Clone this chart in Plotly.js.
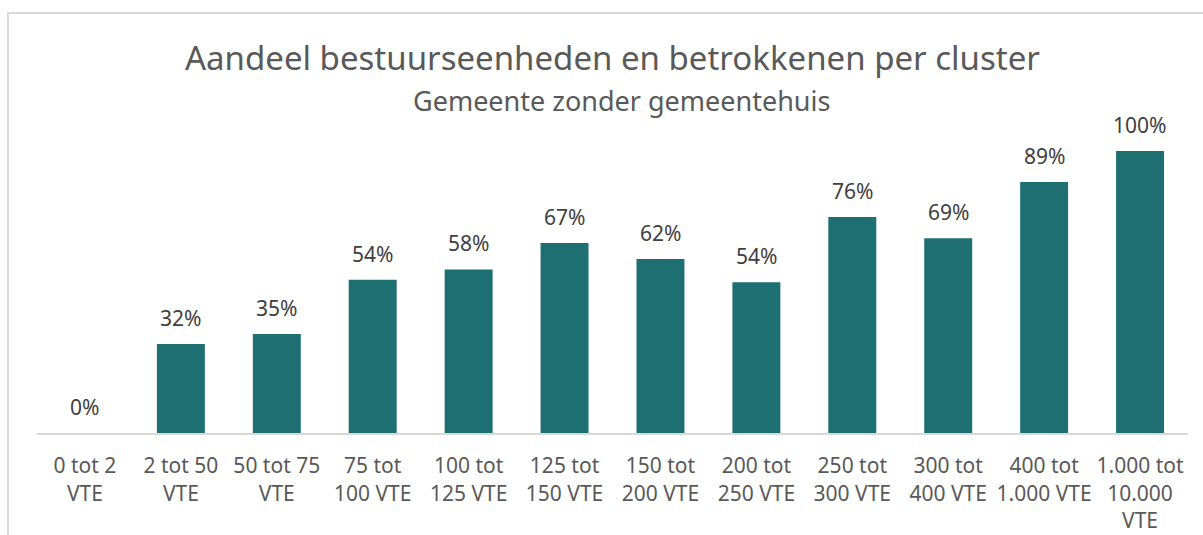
<!DOCTYPE html>
<html>
<head>
<meta charset="utf-8">
<script src="https://cdn.plot.ly/plotly-3.0.1.min.js"></script>
<style>
  html, body { margin: 0; padding: 0; overflow: hidden; background: #fff; }
  #chart { position: absolute; left: 0; top: 0; width: 1203px; height: 535px; }
  #frame { position: absolute; left: 7px; top: 12px; width: 1400px; height: 800px;
           border: 2px solid #d9d9d9; pointer-events: none; box-sizing: border-box; }
</style>
</head>
<body>
<div id="chart"></div>
<div id="frame"></div>
<script>
const categories = [
  "0 tot 2<br>VTE", "2 tot 50<br>VTE", "50 tot 75<br>VTE", "75 tot<br>100 VTE",
  "100 tot<br>125 VTE", "125 tot<br>150 VTE", "150 tot<br>200 VTE", "200 tot<br>250 VTE",
  "250 tot<br>300 VTE", "300 tot<br>400 VTE", "400 tot<br>1.000 VTE", "1.000 tot<br>10.000<br>VTE"
];
const shares = [0, 0.316, 0.351, 0.543, 0.58, 0.674, 0.617, 0.535, 0.766, 0.691, 0.89, 1.0];
const labels = ["0%", "32%", "35%", "54%", "58%", "67%", "62%", "54%", "76%", "69%", "89%", "100%"];

const FONT = "'Noto Sans', 'Open Sans', sans-serif";

const trace = {
  type: "bar",
  x: categories,
  y: shares,
  marker: { color: "#1e6f71" },
  hoverinfo: "none",
  cliponaxis: false
};

const valueAnnotations = categories.map((c, i) => ({
  x: c, y: shares[i], xref: "x", yref: "y",
  text: labels[i], showarrow: false,
  yanchor: "bottom", yshift: 10,
  font: { family: FONT, size: 21, color: "#404040" }
}));

const layout = {
  width: 1203, height: 535,
  margin: { l: 37, r: 15, t: 151, b: 102, pad: 0 },
  paper_bgcolor: "rgba(0,0,0,0)",
  plot_bgcolor: "rgba(0,0,0,0)",
  bargap: 0.5,
  showlegend: false,
  xaxis: {
    type: "category",
    showline: true, linecolor: "#d9d9d9", linewidth: 2,
    ticks: "outside", ticklen: 13, tickcolor: "rgba(0,0,0,0)",
    showgrid: false, zeroline: false,
    tickangle: 0,
    tickfont: { family: FONT, size: 21, color: "#595959" },
    automargin: false
  },
  yaxis: {
    range: [0, 1], visible: false, showgrid: false, zeroline: false, fixedrange: true
  },
  annotations: [
    { xref: "paper", yref: "paper", x: 0.5, y: 1.33, xanchor: "center", yanchor: "middle",
      text: "Aandeel bestuurseenheden en betrokkenen per cluster", showarrow: false,
      font: { family: FONT, size: 33, color: "#595959" } },
    { xref: "paper", yref: "paper", x: 0.5, y: 1.18, xanchor: "center", yanchor: "middle",
      xshift: 9,
      text: "Gemeente zonder gemeentehuis", showarrow: false,
      font: { family: FONT, size: 27, color: "#595959" } }
  ].concat(valueAnnotations)
};

Plotly.newPlot("chart", [trace], layout, { displayModeBar: false, staticPlot: true });
</script>
</body>
</html>
